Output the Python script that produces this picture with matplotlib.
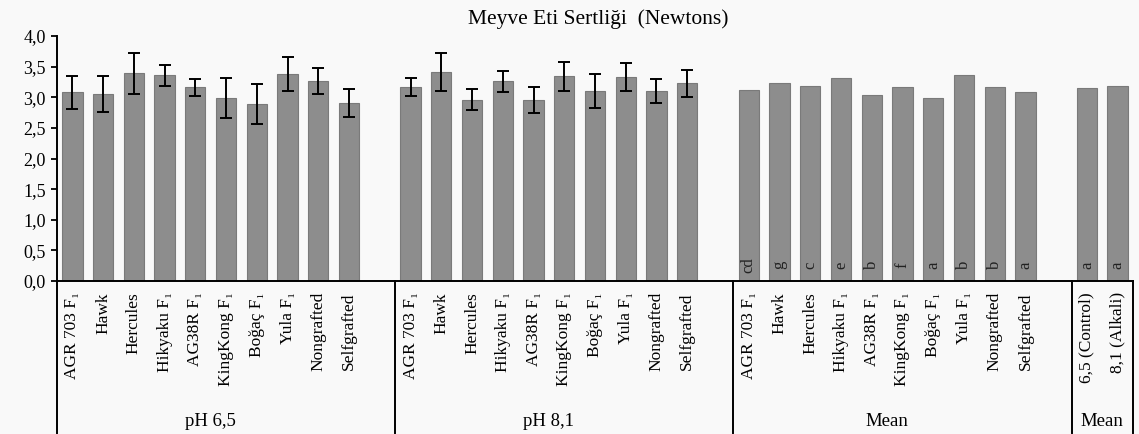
import matplotlib.pyplot as plt
import numpy as np

plt.rcParams["font.family"] = ["Liberation Serif", "DejaVu Serif"]

cultivars = ["AGR 703 F₁", "Hawk", "Hercules", "Hikyaku F₁", "AG38R F₁",
             "KingKong F₁", "Boğaç F₁", "Yula F₁", "Nongrafted", "Selfgrafted"]
ph_labels = ["6,5 (Control)", "8,1 (Alkali)"]

ph65 = [3.08, 3.05, 3.39, 3.36, 3.16, 2.99, 2.89, 3.38, 3.26, 2.90]
ph65_err = [0.27, 0.29, 0.33, 0.17, 0.14, 0.33, 0.32, 0.28, 0.21, 0.23]
ph81 = [3.17, 3.41, 2.96, 3.26, 2.95, 3.34, 3.10, 3.33, 3.10, 3.23]
ph81_err = [0.145, 0.31, 0.17, 0.17, 0.215, 0.24, 0.28, 0.23, 0.20, 0.22]
mean_cult = [3.12, 3.23, 3.19, 3.32, 3.04, 3.16, 2.99, 3.36, 3.17, 3.08]
mean_cult_letters = ["cd", "g", "c", "e", "b", "f", "a", "b", "b", "a"]
mean_ph = [3.15, 3.19]
mean_ph_letters = ["a", "a"]

group_names = ["pH 6,5", "pH 8,1", "Mean", "Mean"]

fig = plt.figure(figsize=(11.39, 4.34), dpi=100, facecolor="#f9f9f9")
ax = fig.add_axes([57 / 1139, 153 / 434, 1076 / 1139, 245 / 434])
ax.set_facecolor("none")

# slot layout: three groups of 11 slots (10 bars + blank), then 2 slots
x1 = np.arange(10) + 0.5
x2 = x1 + 11
x3 = x1 + 22
x4 = np.arange(2) + 33.5

bar_kw = dict(width=0.66, color="#8d8d8d", edgecolor="#7a7a7a", linewidth=0.8, zorder=2)
err_kw = dict(ecolor="black", elinewidth=1.4, capsize=4, capthick=1.4)
ax.bar(x1, ph65, yerr=ph65_err, error_kw=err_kw, **bar_kw)
ax.bar(x2, ph81, yerr=ph81_err, error_kw=err_kw, **bar_kw)
ax.bar(x3, mean_cult, **bar_kw)
ax.bar(x4, mean_ph, **bar_kw)

for xs, letters in [(x3, mean_cult_letters), (x4, mean_ph_letters)]:
    for x, s in zip(xs, letters):
        ax.text(x, 0.26, s, rotation=90, ha="center", va="center",
                fontsize=12, color="#222222", zorder=3)

ax.set_xlim(0, 35)
ax.set_ylim(0, 4)
ax.set_yticks(np.arange(0, 4.01, 0.5))
ax.set_yticklabels([f"{v:.1f}".replace(".", ",") for v in np.arange(0, 4.01, 0.5)])
ax.tick_params(axis="y", length=4, width=1.3, pad=4, labelsize=13)

ax.set_xticks(np.concatenate([x1, x2, x3, x4]))
ax.set_xticklabels(cultivars * 3 + ph_labels, rotation=90, va="top", ha="center")
ax.tick_params(axis="x", length=0, pad=8, labelsize=12.5)

for side in ["top", "right"]:
    ax.spines[side].set_visible(False)
for side in ["left", "bottom"]:
    ax.spines[side].set_linewidth(1.4)

# group separators under the axis
tr = ax.get_xaxis_transform()
for xs in [0, 11, 22, 33, 35]:
    ax.plot([xs, xs], [0, -0.62], color="black", lw=1.4, transform=tr, clip_on=False)

for xc, name in zip([5, 16, 27, 34], group_names):
    ax.text(xc, -0.575, name, transform=tr, ha="center", va="center", fontsize=13.5)

fig.text(598 / 1139, 1 - 19 / 434, "Meyve Eti Sertliği  (Newtons)",
         ha="center", va="center", fontsize=15.5)

fig.savefig("out.png", dpi=100, facecolor=fig.get_facecolor())
